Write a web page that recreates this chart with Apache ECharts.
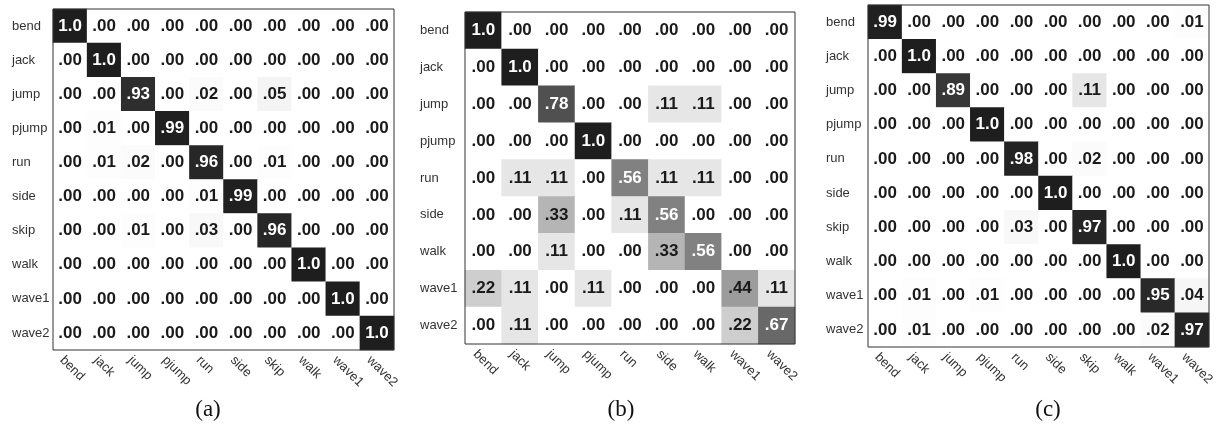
<!DOCTYPE html>
<html>
<head>
<meta charset="utf-8">
<script src="https://cdn.jsdelivr.net/npm/echarts@6/dist/echarts.min.js"></script>
<style>
  html, body { margin: 0; padding: 0; background: #fff; }
  #chart { width: 1218px; height: 427px; }
</style>
</head>
<body>
<div id="chart"></div>
<script>
// Action classes for the two 10-class matrices and the 9-class matrix
const classesA = ['bend', 'jack', 'jump', 'pjump', 'run', 'side', 'skip', 'walk', 'wave1', 'wave2'];
const classesB = ['bend', 'jack', 'jump', 'pjump', 'run', 'side', 'walk', 'wave1', 'wave2'];
const classesC = ['bend', 'jack', 'jump', 'pjump', 'run', 'side', 'skip', 'walk', 'wave1', 'wave2'];

// Confusion matrices: one row per true class, one column per predicted class
const matrixA = [
  [1.00, .00, .00, .00, .00, .00, .00, .00, .00, .00],
  [.00, 1.00, .00, .00, .00, .00, .00, .00, .00, .00],
  [.00, .00, .93, .00, .02, .00, .05, .00, .00, .00],
  [.00, .01, .00, .99, .00, .00, .00, .00, .00, .00],
  [.00, .01, .02, .00, .96, .00, .01, .00, .00, .00],
  [.00, .00, .00, .00, .01, .99, .00, .00, .00, .00],
  [.00, .00, .01, .00, .03, .00, .96, .00, .00, .00],
  [.00, .00, .00, .00, .00, .00, .00, 1.00, .00, .00],
  [.00, .00, .00, .00, .00, .00, .00, .00, 1.00, .00],
  [.00, .00, .00, .00, .00, .00, .00, .00, .00, 1.00]
];
const matrixB = [
  [1.00, .00, .00, .00, .00, .00, .00, .00, .00],
  [.00, 1.00, .00, .00, .00, .00, .00, .00, .00],
  [.00, .00, .78, .00, .00, .11, .11, .00, .00],
  [.00, .00, .00, 1.00, .00, .00, .00, .00, .00],
  [.00, .11, .11, .00, .56, .11, .11, .00, .00],
  [.00, .00, .33, .00, .11, .56, .00, .00, .00],
  [.00, .00, .11, .00, .00, .33, .56, .00, .00],
  [.22, .11, .00, .11, .00, .00, .00, .44, .11],
  [.00, .11, .00, .00, .00, .00, .00, .22, .67]
];
const matrixC = [
  [.99, .00, .00, .00, .00, .00, .00, .00, .00, .01],
  [.00, 1.00, .00, .00, .00, .00, .00, .00, .00, .00],
  [.00, .00, .89, .00, .00, .00, .11, .00, .00, .00],
  [.00, .00, .00, 1.00, .00, .00, .00, .00, .00, .00],
  [.00, .00, .00, .00, .98, .00, .02, .00, .00, .00],
  [.00, .00, .00, .00, .00, 1.00, .00, .00, .00, .00],
  [.00, .00, .00, .00, .03, .00, .97, .00, .00, .00],
  [.00, .00, .00, .00, .00, .00, .00, 1.00, .00, .00],
  [.00, .01, .00, .01, .00, .00, .00, .00, .95, .04],
  [.00, .01, .00, .00, .00, .00, .00, .00, .02, .97]
];

const captions = ['(a)', '(b)', '(c)'];

const panels = [
  { classes: classesA, matrix: matrixA, grid: { left: 53, top: 9, width: 341, height: 341 }, yMargin: 41, capX: 208 },
  { classes: classesB, matrix: matrixB, grid: { left: 465, top: 12, width: 330, height: 332 }, yMargin: 45, capX: 621 },
  { classes: classesC, matrix: matrixC, grid: { left: 868, top: 5, width: 341, height: 342 }, yMargin: 42, capX: 1048 }
];

function fmt(v) {
  if (v >= 1) return '1.0';
  return v.toFixed(2).replace(/^0/, '');
}

const grids = [], xAxes = [], yAxes = [], series = [];
panels.forEach((p, i) => {
  grids.push(Object.assign({
    show: true, z: 10, backgroundColor: 'transparent',
    borderColor: '#333', borderWidth: 1
  }, p.grid));
  xAxes.push({
    type: 'category', gridIndex: i, data: p.classes,
    axisLine: { show: false }, axisTick: { show: false }, splitLine: { show: false },
    axisLabel: {
      rotate: -45, interval: 0, margin: 0, align: 'left', verticalAlign: 'top',
      padding: [5, 0, 0, 0],
      fontFamily: 'Liberation Sans, Arial, sans-serif', fontSize: 13, color: '#333'
    }
  });
  yAxes.push({
    type: 'category', gridIndex: i, data: p.classes, inverse: true,
    axisLine: { show: false }, axisTick: { show: false }, splitLine: { show: false },
    axisLabel: {
      interval: 0, margin: p.yMargin, align: 'left',
      fontFamily: 'Liberation Sans, Arial, sans-serif', fontSize: 13, color: '#333'
    }
  });
  const data = [];
  p.matrix.forEach((row, r) => {
    row.forEach((v, c) => {
      data.push({
        value: [c, r, v],
        label: { color: v > 0.5 ? '#ffffff' : '#1a1a1a' }
      });
    });
  });
  series.push({
    type: 'heatmap', xAxisIndex: i, yAxisIndex: i, data: data,
    label: {
      show: true,
      fontFamily: 'Liberation Sans, Arial, sans-serif', fontSize: 17, fontWeight: 'bold',
      formatter: (params) => fmt(params.value[2])
    },
    itemStyle: { borderWidth: 0 },
    emphasis: { disabled: true }
  });
});

const chart = echarts.init(document.getElementById('chart'), null, { renderer: 'canvas' });
chart.setOption({
  animation: false,
  backgroundColor: '#ffffff',
  grid: grids,
  xAxis: xAxes,
  yAxis: yAxes,
  visualMap: {
    show: false, min: 0, max: 1, dimension: 2, seriesIndex: [0, 1, 2],
    inRange: { color: ['#ffffff', '#1e1e1e'] }
  },
  graphic: panels.map((p, i) => ({
    type: 'text', x: p.capX, y: 410,
    style: {
      text: captions[i], textAlign: 'center', textVerticalAlign: 'middle',
      fontFamily: 'Liberation Serif, Times New Roman, serif', fontSize: 23, fill: '#111'
    }
  })),
  series: series
});
</script>
</body>
</html>
